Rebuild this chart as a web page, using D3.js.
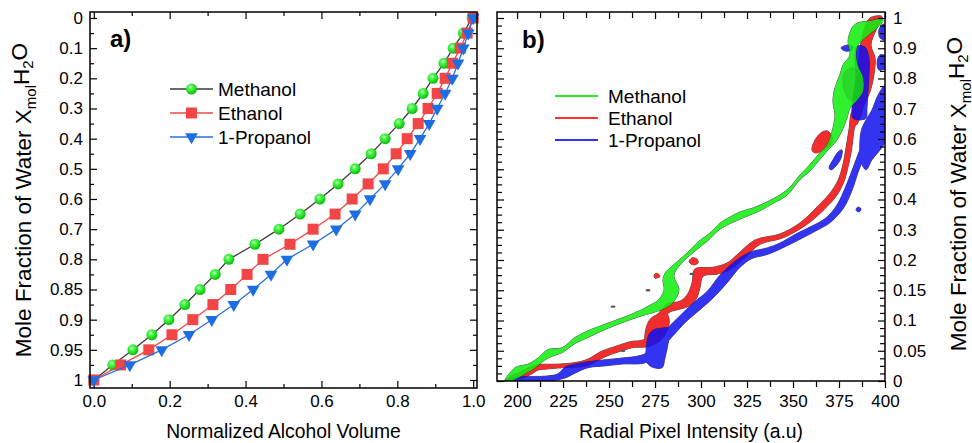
<!DOCTYPE html>
<html>
<head>
<meta charset="utf-8">
<script src="https://cdn.jsdelivr.net/npm/d3@7"></script>
<style>
  body { margin: 0; background: #fff; }
  svg { font-family: "Liberation Sans", Arial, sans-serif; }
</style>
</head>
<body>
<svg id="chart" width="972" height="443"></svg>
<script>
// ---------- panel a data ----------
const fracTicksA = [0, 0.1, 0.2, 0.3, 0.4, 0.5, 0.6, 0.7, 0.8, 0.85, 0.9, 0.95, 1]
const volTicks = [0, 0.2, 0.4, 0.6, 0.8, 1]
const volMinor = [0.1, 0.3, 0.5, 0.7, 0.9]
const waterFrac = [1, 0.975, 0.95, 0.925, 0.9, 0.875, 0.85, 0.825, 0.8, 0.75, 0.7, 0.65, 0.6,
  0.55, 0.5, 0.45, 0.4, 0.35, 0.3, 0.25, 0.2, 0.15, 0.1, 0.05, 0]
const methanolVol = [0, 0.05, 0.103, 0.153, 0.198, 0.24, 0.28, 0.32, 0.356, 0.425, 0.488, 0.544,
  0.596, 0.644, 0.689, 0.731, 0.768, 0.805, 0.839, 0.868, 0.894, 0.923, 0.947, 0.974, 0.997]
const ethanolVol = [0, 0.071, 0.145, 0.206, 0.261, 0.314, 0.361, 0.404, 0.446, 0.517, 0.578, 0.636,
  0.681, 0.723, 0.763, 0.797, 0.826, 0.855, 0.881, 0.905, 0.926, 0.945, 0.966, 0.984, 1.0]
const propanolVol = [0, 0.095, 0.179, 0.251, 0.311, 0.369, 0.42, 0.467, 0.509, 0.578, 0.639, 0.689,
  0.728, 0.768, 0.802, 0.834, 0.86, 0.884, 0.905, 0.926, 0.945, 0.96, 0.974, 0.987, 1.0]
const alcohols = ['Methanol', 'Ethanol', '1-Propanol']

// ---------- panel b data : contour outlines [intensity, mole fraction] ----------
const fracTicksB = [0, 0.05, 0.1, 0.15, 0.2, 0.3, 0.4, 0.5, 0.6, 0.7, 0.8, 0.9, 1]
const intensityTicks = [200, 225, 250, 275, 300, 325, 350, 375, 400]

const methanolContours = [
  [[193.5,0.002],[198.9,0.022],[201.6,0.025],[206.0,0.028],[211.4,0.038],[216.8,0.052],[224.5,0.055],
   [231.5,0.072],[238.6,0.083],[246.2,0.092],[253.3,0.1],[260.3,0.108],[267.9,0.118],[273.9,0.128],
   [276.6,0.133],[279.9,0.15],[279.3,0.167],[280.4,0.178],[283.2,0.187],[287.0,0.197],[292.4,0.223],
   [298.4,0.26],[304.9,0.289],[310.3,0.322],[315.8,0.342],[321.2,0.359],[328.3,0.372],[335.9,0.392],
   [342.9,0.415],[348.4,0.441],[353.8,0.481],[356.5,0.498],[360.9,0.527],[363.6,0.547],[368.5,0.58],
   [370.1,0.603],[371.7,0.636],[372.8,0.679],[371.7,0.726],[372.8,0.769],[375.5,0.812],[377.2,0.845],
   [381.0,0.878],[379.9,0.924],[382.1,0.967],[384.8,0.983],[391.8,0.99],[398.4,0.997],
   [398.9,0.99],[395.7,0.967],[390.2,0.94],[385.3,0.911],[384.2,0.878],[385.3,0.841],[388.0,0.802],
   [388.0,0.759],[384.8,0.729],[381.0,0.702],[379.3,0.669],[377.2,0.636],[373.9,0.597],[368.5,0.56],
   [363.0,0.521],[359.2,0.494],[353.8,0.466],[346.7,0.414],[339.1,0.387],[332.1,0.363],[325.0,0.345],
   [317.4,0.325],[310.3,0.302],[303.3,0.262],[295.7,0.225],[288.6,0.192],[285.3,0.175],[288.0,0.15],
   [284.8,0.13],[281.5,0.122],[273.9,0.113],[267.9,0.108],[260.3,0.1],[253.3,0.092],[246.2,0.083],
   [238.6,0.072],[231.5,0.062],[224.5,0.047],[216.8,0.038],[209.8,0.022],[204.3,0.012],[198.9,0.003],
   [193.5,0]]
]
const methanolInner = [
  [[378.3,0.822],[382.1,0.835],[386.4,0.812],[387.5,0.769],[384.8,0.736],[381.0,0.729],[378.3,0.755],[377.2,0.795]]
]
const ethanolContours = [
  [[195.1,0.005],[201.6,0.015],[207.1,0.023],[211.4,0.027],[223.4,0.028],[234.2,0.032],[239.7,0.038],
   [245.1,0.048],[253.3,0.057],[261.4,0.065],[269.6,0.07],[277.7,0.115],[282.1,0.128],[288.6,0.132],
   [292.4,0.142],[295.1,0.162],[296.7,0.185],[306.5,0.188],[314.1,0.195],[320.1,0.22],[329.3,0.266],
   [342.9,0.286],[352.2,0.316],[357.6,0.342],[363.6,0.379],[370.1,0.421],[374.5,0.464],[377.2,0.517],
   [378.8,0.57],[380.4,0.63],[382.1,0.689],
   [384.6,0.679],[383.0,0.623],[381.8,0.564],[380.0,0.51],[377.6,0.458],[373.6,0.412],[367.2,0.369],
   [360.0,0.329],[353.6,0.302],[344.0,0.272],[332.1,0.252],[323.9,0.208],[316.8,0.186],[309.2,0.177],
   [301.1,0.173],[299.5,0.155],[297.3,0.135],[292.9,0.123],[287.5,0.118],[282.1,0.112],[273.4,0.06],
   [262.5,0.055],[254.9,0.048],[247.8,0.04],[242.9,0.032],[238.0,0.025],[231.5,0.023],[224.5,0.022],
   [216.8,0.02],[211.4,0.018],[208.2,0.012],[202.7,0.005],[196.2,0.002]],
  [[269.6,0.067],[270.1,0.087],[272.3,0.102],[276.1,0.11],[280.4,0.115],[282.6,0.103],[282.1,0.087],
   [279.3,0.072],[275.5,0.062],[271.2,0.06]],
  [[382.1,0.689],[384.2,0.755],[385.3,0.828],[386.4,0.901],[388.6,0.96],[391.8,1.0],[398.4,1.005],
   [395.1,0.96],[392.4,0.911],[394.6,0.868],[394.0,0.812],[391.8,0.755],[388.6,0.712],[386.4,0.669],
   [384.2,0.646]],
  [[360.3,0.564],[362.0,0.597],[365.8,0.623],[369.0,0.626],[371.2,0.607],[370.1,0.577],[365.8,0.56],[362.0,0.554]],
  [[293.5,0.197],[295.1,0.207],[297.8,0.203],[298.4,0.195],[295.7,0.192]],
  [[274.5,0.175],[276.1,0.178],[277.7,0.173],[275.0,0.17]]
]
const propanolContours = [
  [[193.5,0.002],[201.6,0.007],[215.2,0.008],[222.3,0.012],[226.1,0.023],[229.9,0.027],[238.6,0.032],
   [247.8,0.035],[257.1,0.038],[266.8,0.042],[272.3,0.05],[282.1,0.088],[288.6,0.108],[296.2,0.13],
   [303.3,0.148],[310.3,0.175],[318.5,0.198],[326.6,0.226],[335.9,0.24],[342.9,0.256],[351.6,0.286],
   [360.3,0.312],[367.9,0.339],[373.9,0.382],[378.8,0.445],[382.6,0.504],[385.9,0.557],[389.7,0.603],
   [392.5,0.59],[388.5,0.537],[385.2,0.487],[382.2,0.432],[377.3,0.37],[369.8,0.322],[362.0,0.295],
   [352.7,0.265],[344.0,0.239],[335.9,0.218],[327.7,0.205],[321.2,0.188],[314.1,0.162],[307.1,0.139],
   [299.5,0.118],[291.8,0.098],[284.2,0.073],[271.2,0.032],[257.1,0.028],[247.8,0.025],[238.6,0.022],
   [231.5,0.013],[226.1,0.005],[215.2,-0.001],[201.6,-0.002],[193.5,-0.002]],
  [[271.2,0.073],[273.4,0.083],[277.7,0.087],[283.2,0.087],[282.1,0.062],[280.4,0.038],[278.8,0.022],
   [273.4,0.023],[270.1,0.033],[270.1,0.05]],
  [[384.8,0.907],[389.1,0.904],[391.3,0.868],[391.3,0.812],[390.8,0.759],[390.2,0.702],[389.7,0.669],
   [386.4,0.663],[382.6,0.669],[382.1,0.702],[383.2,0.759],[384.2,0.812],[383.7,0.868]],
  [[387.5,0.636],[389.7,0.663],[392.9,0.696],[396.2,0.745],[400.5,0.779],[400.5,0.597],[397.3,0.564],
   [392.9,0.531],[389.7,0.498],[387.0,0.524],[386.4,0.597]],
  [[396.7,0.96],[398.9,0.98],[400.5,0.974],[400.5,0.927],[397.3,0.934]],
  [[395.7,0.855],[397.3,0.878],[400.5,0.874],[400.5,0.835],[396.7,0.828]],
  [[376.1,0.901],[379.9,0.911],[382.6,0.904],[382.1,0.894],[378.3,0.891]],
  [[369.6,0.504],[371.7,0.531],[374.5,0.557],[376.6,0.564],[376.1,0.537],[373.4,0.511],[370.7,0.498]],
  [[384.2,0.365],[385.3,0.375],[387.0,0.369],[385.9,0.359]]
]
const darkSpecks = [[252.2,0.123],[271.2,0.15],[295.1,0.177],[257.6,0.05]]

// ---------- layout ----------
const svg = d3.select('#chart')
const A = { left: 90, right: 477, top: 12, bottom: 388 }
const B = { left: 497, right: 885, top: 12, bottom: 381 }

// interpolated minor ticks between each pair of major ticks
function minorBetween(ticks, n) {
  const out = []
  for (let i = 0; i < ticks.length - 1; i++) {
    for (let k = 1; k <= n; k++) out.push(ticks[i] + (ticks[i + 1] - ticks[i]) * k / (n + 1))
  }
  return out
}

// SCALES
const xA = d3.scaleLinear().domain([-0.01, 1.01]).range([A.left, A.right])
const yA = d3.scaleLinear().domain(fracTicksA)
  .range(fracTicksA.map((d, i) => 18 + i * (380 - 18) / (fracTicksA.length - 1)))

const xB = d3.scaleLinear().domain([189.1, 400]).range([B.left, B.right])
const yB = d3.scaleLinear().domain(fracTicksB)
  .range(fracTicksB.map((d, i) => 381 - i * (381 - 18) / (fracTicksB.length - 1)))

function styleAxis(g, size) {
  g.select('.domain').remove()
  g.attr('font-family', null).attr('font-size', size)
  g.selectAll('line').attr('stroke', '#000').attr('stroke-width', 1.2)
  g.selectAll('text').attr('fill', '#000')
}

// ================= PANEL A =================
const gA = svg.append('g')

// AXES
gA.append('g').attr('transform', `translate(${A.left},0)`)
  .call(d3.axisLeft(yA).tickValues(fracTicksA).tickSize(-7).tickPadding(7).tickFormat(d => String(d)))
  .call(g => styleAxis(g, 17))
gA.append('g').attr('transform', `translate(${A.left},0)`)
  .call(d3.axisLeft(yA).tickValues(minorBetween(fracTicksA, 1)).tickSize(-4).tickFormat(''))
  .call(g => styleAxis(g, 17))
gA.append('g').attr('transform', `translate(${A.right},0)`)
  .call(d3.axisRight(yA).tickValues(fracTicksA).tickSize(-7).tickFormat(''))
  .call(g => styleAxis(g, 17))
gA.append('g').attr('transform', `translate(${A.right},0)`)
  .call(d3.axisRight(yA).tickValues(minorBetween(fracTicksA, 1)).tickSize(-4).tickFormat(''))
  .call(g => styleAxis(g, 17))
gA.append('g').attr('transform', `translate(0,${A.bottom})`)
  .call(d3.axisBottom(xA).tickValues(volTicks).tickSize(-7).tickPadding(7).tickFormat(d3.format('.1f')))
  .call(g => styleAxis(g, 17))
gA.append('g').attr('transform', `translate(0,${A.bottom})`)
  .call(d3.axisBottom(xA).tickValues(volMinor).tickSize(-4).tickFormat(''))
  .call(g => styleAxis(g, 17))
gA.append('g').attr('transform', `translate(0,${A.top})`)
  .call(d3.axisTop(xA).tickValues(volTicks).tickSize(-7).tickFormat(''))
  .call(g => styleAxis(g, 17))
gA.append('g').attr('transform', `translate(0,${A.top})`)
  .call(d3.axisTop(xA).tickValues(volMinor).tickSize(-4).tickFormat(''))
  .call(g => styleAxis(g, 17))

// marker defs
const defs = svg.append('defs')
const grad = defs.append('radialGradient').attr('id', 'sphere')
  .attr('cx', '40%').attr('cy', '35%').attr('r', '60%')
grad.append('stop').attr('offset', '0%').attr('stop-color', '#f4fff4')
grad.append('stop').attr('offset', '30%').attr('stop-color', '#4cff4c')
grad.append('stop').attr('offset', '100%').attr('stop-color', '#12c012')

const seriesA = [
  { name: alcohols[0], vol: methanolVol, line: '#3a3a3a', marker: 'circle' },
  { name: alcohols[1], vol: ethanolVol, line: '#f04848', marker: 'square' },
  { name: alcohols[2], vol: propanolVol, line: '#2a70dc', marker: 'triangle' }
]

function drawMarker(sel, type) {
  if (type === 'circle') {
    sel.append('circle').attr('r', 5.5).attr('fill', 'url(#sphere)')
  } else if (type === 'square') {
    sel.append('rect').attr('x', -5.5).attr('y', -5.5).attr('width', 11).attr('height', 11).attr('fill', '#f24646')
  } else {
    sel.append('path').attr('d', d3.symbol(d3.symbolTriangle, 70)()).attr('transform', 'rotate(180)')
      .attr('fill', '#1d6ee2')
  }
}

const lineA = d3.line().x(d => xA(d[0])).y(d => yA(d[1]))

seriesA.forEach(s => {
  const pts = s.vol.map((v, i) => [v, waterFrac[i]])
  gA.append('path').datum(pts).attr('d', lineA)
    .attr('fill', 'none').attr('stroke', s.line).attr('stroke-width', 1.3)
  gA.append('g').selectAll('g').data(pts).join('g')
    .attr('transform', d => `translate(${xA(d[0])},${yA(d[1])})`)
    .each(function () { drawMarker(d3.select(this), s.marker) })
})

// LEGEND a
seriesA.forEach((s, i) => {
  const y = 89 + i * 24
  const row = gA.append('g')
  row.append('line').attr('x1', 170).attr('x2', 213).attr('y1', y).attr('y2', y)
    .attr('stroke', s.line).attr('stroke-width', 1.3)
  drawMarker(row.append('g').attr('transform', `translate(191.5,${y})`), s.marker)
  row.append('text').attr('x', 218).attr('y', y).attr('dy', '0.35em')
    .attr('font-size', 19).text(s.name)
})

gA.append('text').attr('x', 110).attr('y', 47).attr('font-size', 24).attr('font-weight', 'bold').text('a)')

gA.append('rect').attr('x', A.left).attr('y', A.top)
  .attr('width', A.right - A.left).attr('height', A.bottom - A.top)
  .attr('fill', 'none').attr('stroke', '#000').attr('stroke-width', 1.5)

// ================= PANEL B =================
const gB = svg.append('g')

defs.append('clipPath').attr('id', 'clipB').append('rect')
  .attr('x', B.left).attr('y', B.top).attr('width', B.right - B.left).attr('height', B.bottom - B.top)

const plotB = gB.append('g').attr('clip-path', 'url(#clipB)')
const contourLine = d3.line().x(d => xB(d[0])).y(d => yB(d[1]))
  .curve(d3.curveCatmullRomClosed.alpha(0.5))

function drawContours(polys, fill, opacity) {
  const g = plotB.append('g').attr('opacity', opacity)
  g.selectAll('path.edge').data(polys).join('path').attr('class', 'edge')
    .attr('d', contourLine).attr('fill', fill).attr('stroke', '#2a2a2a').attr('stroke-width', 0.9)
  g.selectAll('path.body').data(polys).join('path').attr('class', 'body')
    .attr('d', contourLine).attr('fill', fill)
}

drawContours(ethanolContours, '#f01010', 0.87)
drawContours(propanolContours, '#1010f0', 0.85)
drawContours(methanolContours, '#12ee12', 0.87)
drawContours(methanolInner, '#1a9a1a', 0.25)

plotB.selectAll('ellipse.speck').data(darkSpecks).join('ellipse').attr('class', 'speck')
  .attr('cx', d => xB(d[0])).attr('cy', d => yB(d[1])).attr('rx', 2.5).attr('ry', 1.2)
  .attr('fill', '#555')

// AXES b
gB.append('g').attr('transform', `translate(${B.left},0)`)
  .call(d3.axisLeft(yB).tickValues(fracTicksB).tickSize(-7).tickFormat(''))
  .call(g => styleAxis(g, 17))
gB.append('g').attr('transform', `translate(${B.left},0)`)
  .call(d3.axisLeft(yB).tickValues(minorBetween(fracTicksB, 3)).tickSize(-5).tickFormat(''))
  .call(g => styleAxis(g, 17))
gB.append('g').attr('transform', `translate(${B.right},0)`)
  .call(d3.axisRight(yB).tickValues(fracTicksB).tickSize(-7).tickPadding(8).tickFormat(d => String(d)))
  .call(g => styleAxis(g, 17))
gB.append('g').attr('transform', `translate(${B.right},0)`)
  .call(d3.axisRight(yB).tickValues(minorBetween(fracTicksB, 3)).tickSize(-5).tickFormat(''))
  .call(g => styleAxis(g, 17))
gB.append('g').attr('transform', `translate(0,${B.bottom})`)
  .call(d3.axisBottom(xB).tickValues(intensityTicks).tickSize(7).tickPadding(7))
  .call(g => styleAxis(g, 17))
gB.append('g').attr('transform', `translate(0,${B.bottom})`)
  .call(d3.axisBottom(xB).tickValues(minorBetween(intensityTicks, 1)).tickSize(6).tickFormat(''))
  .call(g => styleAxis(g, 17))
gB.append('g').attr('transform', `translate(0,${B.top})`)
  .call(d3.axisTop(xB).tickValues(intensityTicks).tickSize(-7).tickFormat(''))
  .call(g => styleAxis(g, 17))
gB.append('g').attr('transform', `translate(0,${B.top})`)
  .call(d3.axisTop(xB).tickValues(minorBetween(intensityTicks, 1)).tickSize(-6).tickFormat(''))
  .call(g => styleAxis(g, 17))

// LEGEND b
const legendColorsB = ['#22ee22', '#ff3030', '#3030ff']
alcohols.forEach((name, i) => {
  const y = [96, 118, 140][i]
  gB.append('line').attr('x1', 555).attr('x2', 598).attr('y1', y).attr('y2', y)
    .attr('stroke', legendColorsB[i]).attr('stroke-width', 2)
  gB.append('text').attr('x', 608).attr('y', y).attr('dy', '0.35em')
    .attr('font-size', 19).text(name)
})

gB.append('text').attr('x', 522).attr('y', 48).attr('font-size', 24).attr('font-weight', 'bold').text('b)')

gB.append('rect').attr('x', B.left).attr('y', B.top)
  .attr('width', B.right - B.left).attr('height', B.bottom - B.top)
  .attr('fill', 'none').attr('stroke', '#000').attr('stroke-width', 1.5)

// ================= TITLES =================
function yTitle(x, y) {
  const t = svg.append('text').attr('transform', `translate(${x},${y}) rotate(-90)`)
    .attr('text-anchor', 'middle').attr('font-size', 22.5)
  t.append('tspan').text('Mole Fraction of Water X')
  t.append('tspan').attr('font-size', 15).attr('dy', '0.3em').text('mol')
  t.append('tspan').attr('dy', '-0.3em').text('H')
  t.append('tspan').attr('font-size', 15).attr('dy', '0.3em').text('2')
  t.append('tspan').attr('dy', '-0.3em').text('O')
}
yTitle(31, 200)
yTitle(966, 194)

svg.append('text').attr('x', (A.left + A.right) / 2).attr('y', 438).attr('text-anchor', 'middle')
  .attr('font-size', 19.3).text('Normalized Alcohol Volume')
svg.append('text').attr('x', (B.left + B.right) / 2).attr('y', 438).attr('text-anchor', 'middle')
  .attr('font-size', 19.3).text('Radial Pixel Intensity (a.u)')
</script>
</body>
</html>
